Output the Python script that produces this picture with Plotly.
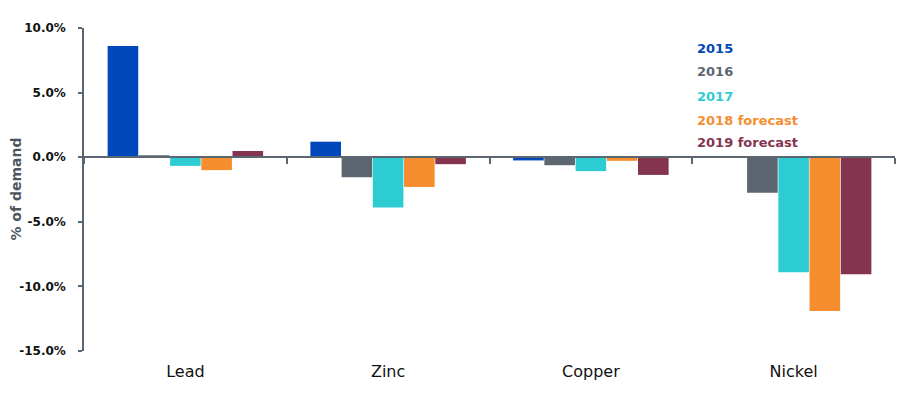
import plotly.graph_objects as go

categories = ["Lead", "Zinc", "Copper", "Nickel"]
series_names = ["2015", "2016", "2017", "2018 forecast", "2019 forecast"]
v2015 = [8.6, 1.2, -0.25, 0.0]
v2016 = [0.15, -1.55, -0.62, -2.75]
v2017 = [-0.67, -3.9, -1.08, -8.9]
v2018 = [-1.0, -2.3, -0.28, -11.9]
v2019 = [0.48, -0.54, -1.37, -9.05]
colors = ["#0047BB", "#5B6670", "#2DCCD3", "#F68D2E", "#84344E"]
ytickvals = [10, 5, 0, -5, -10, -15]
yticktext = ["10.0%", "5.0%", "0.0%", "-5.0%", "-10.0%", "-15.0%"]
y_title = "% of demand"

series_values = [v2015, v2016, v2017, v2018, v2019]
FONT = "DejaVu Sans"
AXIS = "#5B6670"

fig = go.Figure()
for name, vals, col in zip(series_names, series_values, colors):
    fig.add_trace(go.Bar(x=categories, y=vals, name=name, marker_color=col,
                         marker_line_width=0, showlegend=False, hoverinfo="x+y+name"))

# invisible trace that carries the zero-level category axis (line + boundary ticks)
fig.add_trace(go.Scatter(x=categories, y=[0] * len(categories), xaxis="x2", mode="markers",
                         marker=dict(opacity=0), showlegend=False, hoverinfo="skip"))

legend_y = [0.938, 0.864, 0.789, 0.715, 0.644]
for name, col, ly in zip(series_names, colors, legend_y):
    fig.add_annotation(x=0.754, y=ly, xref="paper", yref="paper", xanchor="left", yanchor="middle",
                       text="<b>%s</b>" % name, showarrow=False,
                       font=dict(family=FONT, size=13, color=col))

# y-axis title
fig.add_annotation(x=-0.085, y=0.5, xref="paper", yref="paper", xanchor="center", yanchor="middle",
                   text="<b>%s</b>" % y_title, textangle=-90, showarrow=False,
                   font=dict(family=FONT, size=14, color="#4D5660"))

fig.update_layout(
    width=915, height=397,
    margin=dict(l=84, r=20, t=28, b=46),
    paper_bgcolor="white", plot_bgcolor="white",
    barmode="group", bargap=0.23, bargroupgap=0.02,
    font=dict(family=FONT, color="#111111"),
    xaxis=dict(type="category", categoryarray=categories, showline=False, ticks="",
               showgrid=False, zeroline=False, ticklabelstandoff=9, automargin=False,
               tickfont=dict(family=FONT, size=16, color="#111111")),
    xaxis2=dict(type="category", categoryarray=categories, overlaying="x", matches="x",
                anchor="free", position=0.6, side="bottom", automargin=False,
                showline=True, linecolor=AXIS, linewidth=1.5,
                ticks="outside", tickson="boundaries", ticklen=6, tickcolor=AXIS, tickwidth=1.5,
                showticklabels=False, showgrid=False, zeroline=False),
    yaxis=dict(range=[-15, 10], tickvals=ytickvals, ticktext=yticktext, automargin=False,
               showline=True, linecolor=AXIS, linewidth=1.5,
               ticks="outside", ticklen=4, tickcolor=AXIS, tickwidth=1.5,
               showgrid=False, zeroline=False, ticklabelstandoff=10,
               tickfont=dict(family=FONT, size=12, color="#111111", weight="bold")),
)

fig.write_html("out.html")
